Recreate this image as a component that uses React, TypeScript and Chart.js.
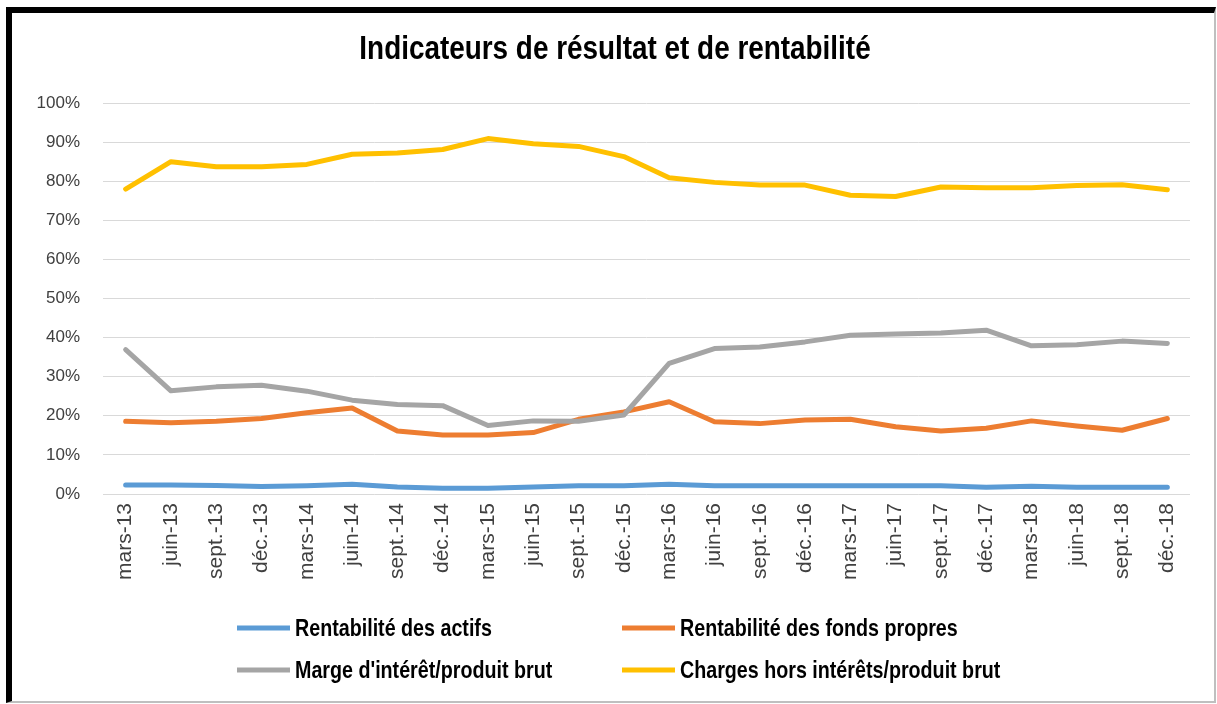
import React, { useEffect, useRef } from "react";
import { Chart, registerables } from "chart.js";

Chart.register(...registerables);

const categories = [
  "mars-13", "juin-13", "sept.-13", "déc.-13",
  "mars-14", "juin-14", "sept.-14", "déc.-14",
  "mars-15", "juin-15", "sept.-15", "déc.-15",
  "mars-16", "juin-16", "sept.-16", "déc.-16",
  "mars-17", "juin-17", "sept.-17", "déc.-17",
  "mars-18", "juin-18", "sept.-18", "déc.-18",
];

const rentabiliteActifs = [
  2.3, 2.3, 2.2, 1.9, 2.1, 2.5, 1.8, 1.5, 1.5, 1.8, 2.1, 2.1,
  2.5, 2.1, 2.1, 2.1, 2.1, 2.1, 2.1, 1.7, 2.0, 1.7, 1.7, 1.7,
];

const rentabiliteFondsPropres = [
  18.6, 18.2, 18.6, 19.3, 20.8, 22.0, 16.1, 15.1, 15.1, 15.7, 19.1, 21.0,
  23.6, 18.5, 18.0, 18.9, 19.1, 17.2, 16.1, 16.8, 18.7, 17.4, 16.3, 19.3,
];

const margeInteret = [
  36.9, 26.4, 27.4, 27.8, 26.3, 24.0, 22.9, 22.6, 17.5, 18.7, 18.6, 20.2,
  33.4, 37.2, 37.6, 38.9, 40.6, 40.9, 41.2, 41.9, 37.9, 38.2, 39.1, 38.5,
];

const chargesHorsInterets = [
  78.0, 85.0, 83.7, 83.7, 84.3, 86.9, 87.2, 88.1, 90.9, 89.6, 88.9, 86.3,
  80.9, 79.7, 79.0, 79.0, 76.4, 76.1, 78.5, 78.3, 78.3, 78.9, 79.1, 77.8,
];

const seriesLabels = [
  "Rentabilité des actifs",
  "Rentabilité des fonds propres",
  "Marge d'intérêt/produit brut",
  "Charges hors intérêts/produit brut",
];
const seriesColors = ["#5B9BD5", "#ED7D31", "#A5A5A5", "#FFC000"];

const yTicks = [0, 10, 20, 30, 40, 50, 60, 70, 80, 90, 100];

const TITLE = "Indicateurs de résultat et de rentabilité";
const SANS = '"Liberation Sans", Arial, sans-serif';
const NARROW_SCALE = 0.82;

function drawNarrowText(ctx: any, text: string, x: number, y: number, align: string) {
  ctx.save();
  ctx.translate(x, y);
  ctx.scale(NARROW_SCALE, 1);
  ctx.textAlign = align;
  ctx.fillText(text, 0, 0);
  ctx.restore();
}

const titlePlugin = {
  id: "narrowTitle",
  afterDraw(chart: any) {
    const ctx = chart.ctx;
    ctx.save();
    ctx.font = `bold 34px ${SANS}`;
    ctx.fillStyle = "#000";
    ctx.textBaseline = "middle";
    drawNarrowText(ctx, TITLE, chart.width / 2 + 2, 37, "center");
    ctx.restore();
  },
};

const legendPlugin = {
  id: "gridLegend",
  afterDraw(chart: any) {
    const ctx = chart.ctx;
    const cx = chart.width / 2;
    const cols = [cx - 376, cx + 9];
    const rows = [615, 657];
    ctx.save();
    ctx.font = `bold 24px ${SANS}`;
    ctx.textBaseline = "middle";
    chart.data.datasets.forEach((ds: any, i: number) => {
      const x = cols[i % 2];
      const y = rows[Math.floor(i / 2)];
      ctx.strokeStyle = ds.borderColor;
      ctx.lineWidth = 5;
      ctx.lineCap = "butt";
      ctx.beginPath();
      ctx.moveTo(x, y);
      ctx.lineTo(x + 53, y);
      ctx.stroke();
      ctx.fillStyle = "#000";
      drawNarrowText(ctx, ds.label, x + 58, y + 1, "left");
    });
    ctx.restore();
  },
};

export default function App() {
  const ref = useRef<HTMLCanvasElement | null>(null);
  useEffect(() => {
    if (!ref.current) return;
    const values = [rentabiliteActifs, rentabiliteFondsPropres, margeInteret, chargesHorsInterets];
    const chart = new Chart(ref.current, {
      type: "line",
      data: {
        labels: categories,
        datasets: values.map((v, i) => ({
          label: seriesLabels[i],
          data: v,
          borderColor: seriesColors[i],
          backgroundColor: seriesColors[i],
          borderWidth: 5,
          pointRadius: 0,
          pointHoverRadius: 0,
          tension: 0,
          fill: false,
          borderJoinStyle: "round" as const,
          borderCapStyle: "round" as const,
          order: 4 - i,
        })),
      },
      options: {
        responsive: false,
        animation: false,
        layout: { padding: { top: 90, right: 24, bottom: 97, left: 0 } },
        plugins: {
          legend: { display: false },
          tooltip: { enabled: false },
          title: { display: false },
        },
        scales: {
          x: {
            type: "category",
            offset: true,
            grid: { display: false, drawTicks: false },
            border: { display: false },
            ticks: {
              minRotation: 90,
              maxRotation: 90,
              autoSkip: false,
              padding: 9,
              color: "#404040",
              font: { family: SANS, size: 21 },
            },
            afterFit: (scale: any) => {
              scale.height = 110;
            },
          },
          y: {
            min: 0,
            max: 100,
            afterBuildTicks: (scale: any) => {
              scale.ticks = yTicks.map((v) => ({ value: v }));
            },
            grid: { color: "#D9D9D9", lineWidth: 1, drawTicks: false },
            border: { display: false },
            ticks: {
              padding: 23,
              color: "#404040",
              font: { family: SANS, size: 17 },
              callback: (v: any) => `${v}%`,
            },
            afterFit: (scale: any) => {
              scale.width = 91;
            },
          },
        },
      },
      plugins: [titlePlugin, legendPlugin],
    });
    return () => chart.destroy();
  }, []);

  return (
    <div
      style={{
        position: "absolute",
        left: 6,
        top: 7,
        width: 1210,
        height: 696,
        boxSizing: "border-box",
        borderLeft: "6px solid #000",
        borderTop: "6px solid #000",
        borderRight: "2px solid #BFBFBF",
        borderBottom: "2px solid #BFBFBF",
        background: "#fff",
      }}
    >
      <canvas ref={ref} width={1202} height={688} style={{ display: "block" }} />
    </div>
  );
}
